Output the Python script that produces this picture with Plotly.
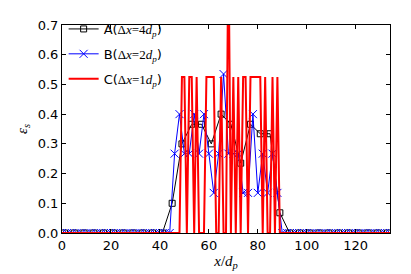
import numpy as np
import plotly.graph_objects as go

# --- data ---
# A: cell size 4 d_p (points at x = 1, 5, 9, ...)
a_x = list(range(1, 134, 4))
a_nonzero = {45: 0.10, 49: 0.30, 53: 0.366, 57: 0.366, 61: 0.30, 65: 0.40,
             69: 0.366, 73: 0.235, 77: 0.366, 81: 0.334, 85: 0.334, 89: 0.068}
a_y = [a_nonzero.get(x, 0.0) for x in a_x]

# B: cell size 2 d_p (points at x = 0, 2, 4, ...)
b_x = list(range(0, 135, 2))
b_nonzero = {46: 0.267, 48: 0.40, 50: 0.267, 52: 0.267, 54: 0.40, 56: 0.267,
             58: 0.40, 60: 0.267, 62: 0.135, 64: 0.267, 66: 0.535, 68: 0.267,
             70: 0.267, 72: 0.267, 74: 0.135, 76: 0.135, 78: 0.40, 80: 0.135,
             82: 0.267, 84: 0.135, 86: 0.267, 88: 0.135}
b_y = [b_nonzero.get(x, 0.0) for x in b_x]

# C: cell size 1 d_p (points at every integer x)
c_x = list(range(0, 135))
c_nonzero = {49: 0.525, 50: 0.525, 52: 0.525, 53: 0.525, 55: 0.525,
             59: 0.525, 60: 0.525, 61: 0.525, 62: 0.525, 65: 0.525,
             68: 1.0, 70: 0.525, 72: 0.525, 74: 0.525, 75: 0.525,
             77: 0.525, 78: 0.525, 79: 0.525, 80: 0.525, 81: 0.525,
             83: 0.525, 86: 0.525, 88: 0.525}
c_y = [c_nonzero.get(x, 0.0) for x in c_x]

serif = "Liberation Serif"
sans = "DejaVu Sans"


def label(letter, n):
    return (f"{letter}(<span style='font-family:{serif}'>Δ<i>x</i>={n}"
            f"<i>d</i><sub><i>p</i></sub></span>)")


fig = go.Figure()
fig.add_trace(go.Scatter(
    x=a_x, y=a_y, mode="lines+markers", name=label("A", 4), legendgroup="a",
    line=dict(color="black", width=1),
    marker=dict(symbol="square-open", size=6, color="black", line=dict(width=1)),
))
fig.add_trace(go.Scatter(
    x=b_x, y=b_y, mode="lines+markers", name=label("B", 2), legendgroup="b",
    line=dict(color="#0000ff", width=1),
    marker=dict(symbol="x-thin-open", size=8, color="#0000ff", line=dict(width=1, color="#0000ff")),
))
fig.add_trace(go.Scatter(
    x=c_x, y=c_y, mode="lines", name=label("C", 1), legendgroup="c",
    line=dict(color="#ff0000", width=2),
))

axis_common = dict(
    showline=True, linecolor="black", linewidth=1, mirror="allticks",
    ticks="inside", ticklen=4, tickcolor="black", showgrid=False, zeroline=False,
    tickfont=dict(family=sans, size=13, color="black"), automargin=False,
)
fig.update_xaxes(range=[0, 134], dtick=20, tick0=0,
                 title=dict(text=f"<span style='font-family:{serif}'><i>x</i>/<i>d</i><sub><i>p</i></sub></span>",
                            font=dict(family=serif, size=15, color="black"), standoff=0),
                 **axis_common)
fig.update_yaxes(range=[0, 0.7], dtick=0.1, tick0=0, tickformat=".1f",
                 title=dict(text="<i>ε</i><sub><i>s</i></sub>",
                            font=dict(family=serif, size=15, color="black"), standoff=6),
                 **axis_common)

# page body adds an 8px offset, so the figure is sized to fit the window
fig.update_layout(
    width=403, height=266,
    margin=dict(l=54, r=21, t=6, b=41),
    paper_bgcolor="white", plot_bgcolor="white",
    font=dict(family=sans, size=13, color="black"),
    legend=dict(x=0.005, y=1.053, xanchor="left", yanchor="top",
                bgcolor="rgba(0,0,0,0)", font=dict(family=sans, size=13),
                tracegroupgap=5),
)

fig.write_html("out.html")
